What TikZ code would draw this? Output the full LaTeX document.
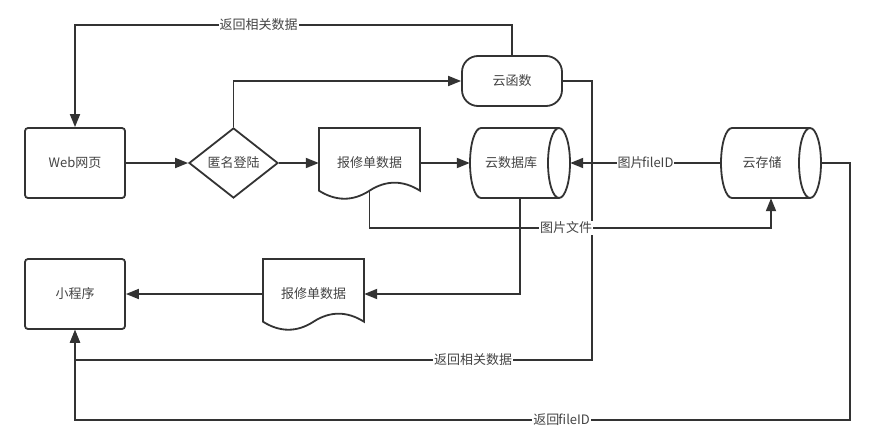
\documentclass[tikz,border=0pt]{standalone}
\usepackage{fontspec}
\newfontfamily\cjk{Noto Sans CJK SC}
\usetikzlibrary{arrows.meta,calc,shapes.geometric}
\definecolor{ink}{HTML}{333333}
\definecolor{txt}{HTML}{444444}
\tikzset{
  shp/.style={draw=ink,line width=1.8pt,fill=white},
  tfont/.style={font=\cjk\fontsize{13}{15}\selectfont,text=txt},
  webbox/.style={shp,tfont,rounded corners=3pt,minimum width=100pt,minimum height=70pt,inner sep=0pt},
  dia/.style={shp,tfont,diamond,aspect=1.27,minimum width=89pt,minimum height=70pt,inner sep=0pt},
  term/.style={shp,tfont,rectangle,rounded corners=16pt,minimum width=100pt,minimum height=50pt,inner sep=0pt},
  docnode/.style={tfont,minimum width=101pt,minimum height=70pt,inner sep=0pt},
  cylnode/.style={tfont,minimum width=100pt,minimum height=70pt,inner sep=0pt},
  lbl/.style={tfont,fill=white,inner sep=1pt},
  arr/.style={draw=ink,line width=1.8pt,-{Triangle[length=13pt,width=10pt]}},
  docpic/.pic={
    \draw[shp] (0,0) -- (101,0) -- (101,62.7)
      .. controls (84,52) and (67,52) .. (50.5,62.7)
      .. controls (34,73.4) and (17,73.4) .. (0,62.7) -- cycle;
  },
  cylpic/.pic={
    \draw[shp] (89,0) -- (11,0) arc[start angle=90,end angle=270,x radius=11pt,y radius=35pt] -- (89,70);
    \draw[shp] (89,35) ellipse[x radius=11pt,y radius=35pt];
  }
}
\begin{document}
\begin{tikzpicture}[x=1pt,y=-1pt]
\path[use as bounding box] (0,0) rectangle (876,444);

% shapes
\node[webbox] (web) at (75,163) {Web网页};
\node[dia] (dia) at (233.5,163) {匿名登陆};
\node[term] (cf) at (512,81) {云函数};
\pic at (319,128) {docpic};
\node[docnode] (d1) at (369.5,163) {报修单数据};
\pic at (470,128) {cylpic};
\node[cylnode] (db) at (520,163) {\kern-9pt 云数据库\kern9pt};
\pic at (721,128) {cylpic};
\node[cylnode] (cs) at (771,163) {\kern-9pt 云存储\kern9pt};
\pic at (263,259) {docpic};
\node[docnode] (d2) at (313.5,294) {报修单数据};
\node[webbox] (mp) at (75,294) {小程序};

% helper coordinates
\coordinate (t1) at (75,25);
\coordinate (r1) at (592,360);
\coordinate (r2) at (850,420);
\coordinate (f1) at (0,228);

% connectors
\draw[arr] (web.east) -- (dia.west);
\draw[arr] (dia.north) |- (cf.west);
\draw[arr] (cf.north) |- node[lbl,pos=0.79]{返回相关数据} (t1) -- (web.north);
\draw[arr] (cf.east) -| (r1) -| node[lbl,pos=0.115]{返回相关数据} (mp.south);
\draw[arr] (dia.east) -- (d1.west);
\draw[arr] (d1.east) -- (db.west);
\draw[arr] (cs.west) -- node[lbl]{图片\kern-1.5pt fileID} (db.east);
\draw[arr] ([yshift=8pt]d1.south) -- (d1.south |- f1) -| node[lbl,pos=0.245]{图片文件} (cs.south);
\draw[arr] (db.south) |- (d2.east);
\draw[arr] (d2.west) -- (mp.east);
\draw[arr] (cs.east) -| (r2) -| node[lbl,pos=0.186]{返回\kern-1pt fileID} (mp.south);
\end{tikzpicture}
\end{document}
